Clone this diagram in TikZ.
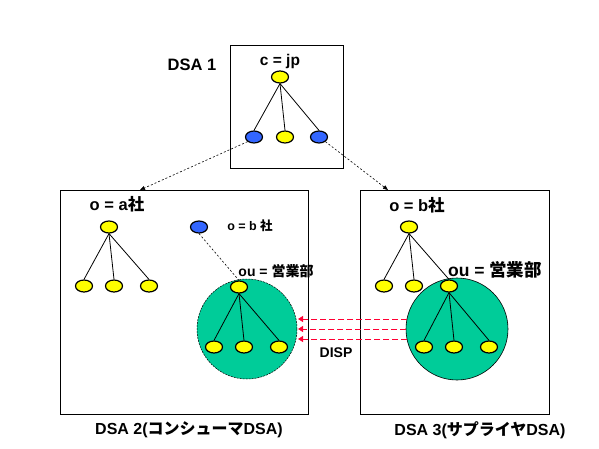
\documentclass[tikz,border=0pt]{standalone}
\usepackage{fontspec}
\setmainfont{Liberation Sans}
\newfontfamily\jp{Noto Sans CJK JP}
\usetikzlibrary{arrows.meta,shapes.geometric}
\definecolor{yel}{HTML}{FFFF00}
\definecolor{blu}{HTML}{3366FF}
\definecolor{grn}{HTML}{00CC99}
\definecolor{redd}{HTML}{FF0033}
\newcommand{\fs}[1]{\bfseries\fontsize{#1}{#1}\selectfont}
\begin{document}
\begin{tikzpicture}[x=1pt,y=-1pt,
  ent/.style={ellipse,draw=black,line width=1.2pt,minimum width=17pt,minimum height=12pt,inner sep=0pt},
  yn/.style={ent,fill=yel},
  bn/.style={ent,fill=blu},
  box/.style={draw=black,line width=0.8pt},
  tree/.style={draw=black,line width=0.8pt},
  lbl/.style={inner sep=0pt},
  disp/.style={draw=redd,line width=0.9pt,dash pattern=on 6pt off 3pt,-{Triangle[length=5pt,width=6pt]}},
  dsaarrow/.style={draw=black,line width=0.6pt,dash pattern=on 2pt off 2pt,-{Triangle[length=5pt,width=4pt]}}
]
\useasboundingbox (0,0) rectangle (599,449);
\fill[white] (0,0) rectangle (599,449);
% boxes
\draw[box] (230,45) rectangle (343,168);
\draw[box] (60,190) rectangle (308,414);
\draw[box] (360,190) rectangle (549,414);
% green circles
\draw[fill=grn,draw=black,line width=0.5pt,dash pattern=on 2pt off 1pt] (247,329) circle[radius=50];
\draw[fill=grn,draw=black,line width=0.6pt] (457,329) circle[radius=51];
% labels
\node[lbl,font=\fs{16.5}] (t1) at (192,65) {DSA 1};
\node[lbl,font=\fs{15.5}] (tc) at (280,61) {c = jp};
\node[lbl,font=\fs{16.5}] (ta) at (117,204) {o = a{\jp 社}};
\node[lbl,font=\fs{12.5}] (tb) at (250,226) {o = b {\jp 社}};
\node[lbl,font=\fs{14}] (tou2) at (276,271) {ou = {\jp 営業部}};
\node[lbl,font=\fs{16.5}] (tb3) at (417,205) {o = b{\jp 社}};
\node[lbl,font=\fs{17.5}] (tou3) at (495,270) {ou = {\jp 営業部}};
\node[lbl,font=\fs{14}] (disp) at (336,353) {DISP};
\node[lbl,font=\fs{16}] (l2) at (189,430) {DSA 2({\jp コンシューマ}DSA)};
\node[lbl,font=\fs{16}] (l3) at (480,430) {DSA 3({\jp サプライヤ}DSA)};
% DSA1 tree
\node[yn] (c) at (280,77) {};
\node[bn] (c1) at (254,137) {};
\node[yn] (c2) at (285,137) {};
\node[bn] (c3) at (319,137) {};
\draw[tree] (c.south) -- (c1.north);
\draw[tree] (c.south) -- (c2.north);
\draw[tree] (c.south) -- (c3.north);
% DSA2
\node[yn] (a) at (109,227) {};
\node[yn] (a1) at (84,286) {};
\node[yn] (a2) at (114,286) {};
\node[yn] (a3) at (149,286) {};
\draw[tree] (a.south) -- (a1.north);
\draw[tree] (a.south) -- (a2.north);
\draw[tree] (a.south) -- (a3.north);
\node[bn] (b) at (199,227) {};
\node[yn] (u) at (239,287) {};
\node[yn] (u1) at (214,347) {};
\node[yn] (u2) at (244,347) {};
\node[yn] (u3) at (279,347) {};
\draw[tree] (u.south) -- (u1.north);
\draw[tree] (u.south) -- (u2.north);
\draw[tree] (u.south) -- (u3.north);
\draw[black,line width=0.6pt,dash pattern=on 2pt off 2pt] (b.south) -- (u.north);
% DSA3
\node[yn] (s) at (409,227) {};
\node[yn] (s1) at (384,286) {};
\node[yn] (s2) at (414,286) {};
\node[yn] (s3) at (449,286) {};
\draw[tree] (s.south) -- (s1.north);
\draw[tree] (s.south) -- (s2.north);
\draw[tree] (s.south) -- (s3.north);
\node[yn] (v1) at (424,347) {};
\node[yn] (v2) at (454,347) {};
\node[yn] (v3) at (489,347) {};
\draw[tree] (s3.south) -- (v1.north);
\draw[tree] (s3.south) -- (v2.north);
\draw[tree] (s3.south) -- (v3.north);
% DSA arrows
\coordinate (e2) at (140,190);
\coordinate (e3) at (388,190);
\draw[dsaarrow] (c1.south west) -- (e2);
\draw[dsaarrow] (c3.south east) -- (e3);
% DISP arrows
\coordinate (r1) at (407,319);
\coordinate (r2) at (406,329);
\coordinate (r3) at (407,339);
\coordinate (q1) at (298,319);
\coordinate (q2) at (298,329);
\coordinate (q3) at (298,339);
\draw[disp] (r1) -- (q1);
\draw[disp] (r2) -- (q2);
\draw[disp] (r3) -- (q3);
\end{tikzpicture}
\end{document}
